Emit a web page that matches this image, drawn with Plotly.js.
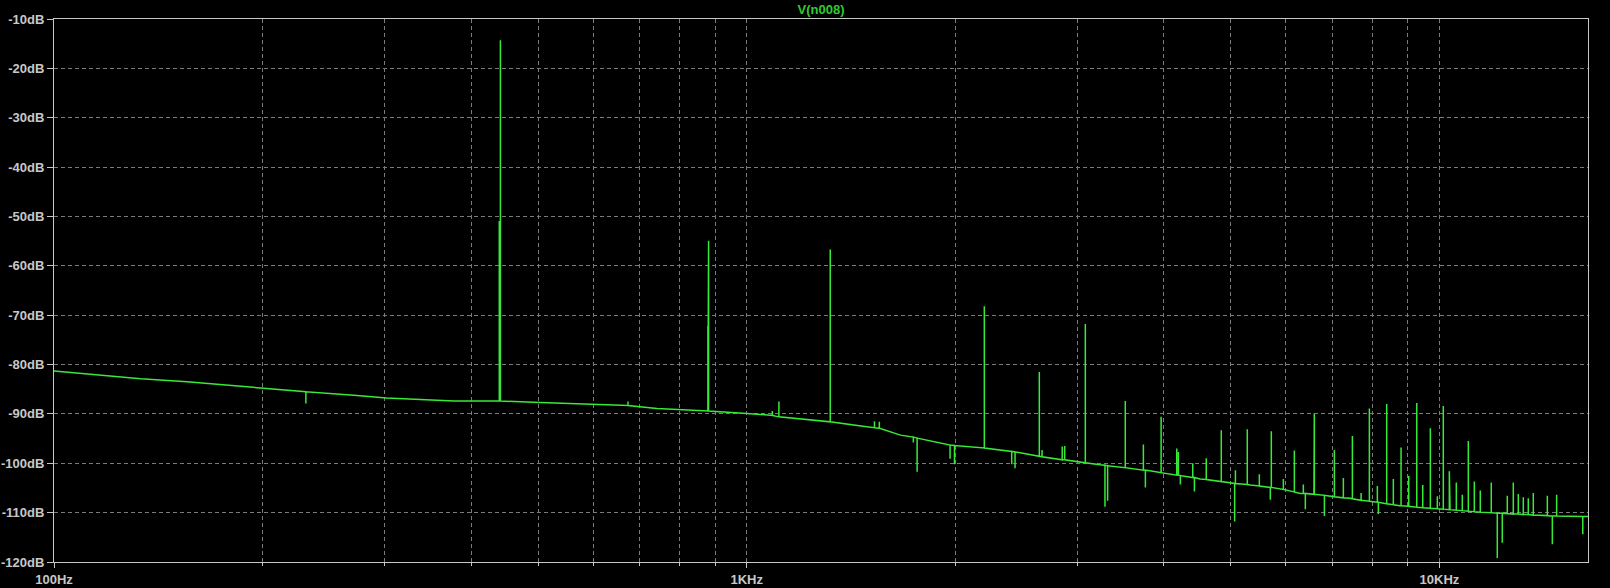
<!DOCTYPE html>
<html>
<head>
<meta charset="utf-8">
<script src="https://cdn.plot.ly/plotly-3.0.1.min.js"></script>
<style>
  html, body { margin: 0; padding: 0; background: #000; }
  #chart { width: 1610px; height: 588px; }
</style>
</head>
<body>
<div id="chart"></div>
<script>
// Noise floor of V(n008) spectrum (Hz, dB)
const floorFreq = [100, 111.6, 133.4, 155.6, 198.8, 231, 271, 302, 378, 441, 503, 600, 674, 742, 881, 1000, 1113, 1320, 1490, 1667, 1966, 2203, 2645, 3082, 3236, 3820, 4512, 5329, 6293, 7430, 8773, 10360, 12230, 14440, 16390];
const floorDb   = [-81.3, -81.9, -82.9, -83.5, -84.8, -85.5, -86.2, -86.8, -87.4, -87.4, -87.7, -88.1, -88.3, -88.9, -89.4, -89.9, -90.6, -91.6, -92.6, -94.3, -96.3, -96.9, -98.6, -99.9, -100.3, -101.5, -103.2, -104.4, -106.1, -107.1, -108.6, -109.4, -110.1, -110.7, -110.8];

// Spikes: frequency (Hz), level at their foot (dB), level at their tip (dB)
const spikeFreq = [231, 439.4, 441, 674, 879, 881, 1089, 1113, 1320, 1529, 1554, 1740, 1762, 1966, 1995, 2203, 2413, 2440, 2645, 2669, 2854, 2878, 3082, 3290, 3319, 3520, 3738, 3763, 3965, 4177, 4199, 4227, 4405, 4429, 4607, 4843, 5063, 5076, 5280, 5496, 5700, 5719, 5953, 6174, 6361, 6404, 6590, 6598, 6823, 7053, 7267, 7488, 7708, 7923, 8136, 8163, 8393, 8580, 8803, 9031, 9275, 9461, 9703, 9931, 10130, 10335, 10578, 10790, 11008, 11230, 11455, 11881, 12121, 12324, 12531, 12784, 12998, 13216, 13437, 13662, 14315, 14555, 14766, 16105];
const spikeBase = [-85.5, -87.4, -87.4, -88.3, -89.4, -89.4, -90.3, -90.6, -91.6, -92.8, -92.9, -94.7, -94.9, -96.3, -96.4, -96.9, -97.6, -97.7, -98.6, -98.7, -99.3, -99.3, -99.9, -100.4, -100.5, -100.9, -101.4, -101.4, -101.9, -102.4, -102.4, -102.5, -102.9, -102.9, -103.3, -103.7, -104.1, -104.1, -104.3, -104.6, -104.9, -104.9, -105.3, -105.8, -106.1, -106.1, -106.3, -106.3, -106.5, -106.8, -107.0, -107.2, -107.5, -107.7, -107.9, -107.9, -108.2, -108.4, -108.6, -108.7, -108.9, -109.0, -109.1, -109.2, -109.3, -109.4, -109.5, -109.6, -109.7, -109.8, -109.9, -110.0, -110.1, -110.1, -110.2, -110.3, -110.3, -110.4, -110.4, -110.5, -110.6, -110.7, -110.7, -110.8];
const spikeTip  = [-87.9, -50.9, -14.3, -87.5, -72.2, -54.9, -89.4, -87.5, -56.7, -91.5, -91.6, -95.8, -101.7, -99.1, -100.2, -68.2, -100.2, -101.0, -81.5, -97.3, -96.6, -96.5, -71.8, -108.8, -107.6, -87.4, -96.2, -104.9, -90.6, -97.0, -97.7, -104.3, -100.0, -105.7, -99.0, -93.3, -111.8, -101.4, -93.1, -102.2, -107.4, -93.5, -103.2, -97.4, -104.3, -109.3, -98.1, -89.9, -110.7, -97.3, -103.0, -94.5, -106.0, -88.9, -104.6, -110.3, -88.0, -103.2, -96.8, -102.6, -87.8, -104.4, -92.9, -106.7, -88.4, -101.6, -103.9, -106.4, -95.5, -103.7, -105.5, -103.9, -119.2, -116.1, -106.6, -103.9, -106.2, -106.9, -107.1, -106.0, -106.6, -116.4, -106.4, -114.4];

// Axis ticks
const yTickVals = [-10, -20, -30, -40, -50, -60, -70, -80, -90, -100, -110, -120];
const yTickText = ['-10dB', '-20dB', '-30dB', '-40dB', '-50dB', '-60dB', '-70dB', '-80dB', '-90dB', '-100dB', '-110dB', '-120dB'];
const xTickVals = [100, 1000, 10000];
const xTickText = ['100Hz', '1KHz', '10KHz'];
const xMinorVals = [200, 300, 400, 500, 600, 700, 800, 900, 2000, 3000, 4000, 5000, 6000, 7000, 8000, 9000];

// Build the polyline from the named arrays
const pts = [];
floorFreq.forEach((f, i) => pts.push({ f: f, ys: [floorDb[i]] }));
spikeFreq.forEach((f, i) => pts.push({ f: f, ys: [spikeBase[i], spikeTip[i], spikeBase[i]] }));
pts.sort((a, b) => a.f - b.f);
const xs = [], ys = [];
pts.forEach(p => p.ys.forEach(v => { xs.push(p.f); ys.push(v); }));

const gridColor = '#7a7a7a';
const axisColor = '#c8c8c8';
const labelFont = { family: 'Liberation Sans, Arial, sans-serif', size: 13, color: '#c8c8c8', weight: 'bold' };

const data = [{
  type: 'scatter',
  mode: 'lines',
  x: xs,
  y: ys,
  line: { color: '#38ea38', width: 1.5 },
  hoverinfo: 'skip',
  showlegend: false
}];

const layout = {
  width: 1610,
  height: 588,
  paper_bgcolor: '#000000',
  plot_bgcolor: '#000000',
  margin: { l: 54, r: 22, t: 19, b: 26, pad: 0 },
  title: {
    text: 'V(n008)',
    font: { family: 'Liberation Sans, Arial, sans-serif', size: 13, color: '#2ecc2e', weight: 'bold' },
    x: 0.5, xref: 'paper', xanchor: 'center',
    y: 1 - 9 / 588, yref: 'container', yanchor: 'middle'
  },
  xaxis: {
    type: 'log',
    range: [2, 4.2145],
    tickmode: 'array',
    tickvals: xTickVals,
    ticktext: xTickText,
    ticks: 'outside',
    ticklen: 5,
    tickcolor: axisColor,
    tickfont: labelFont,
    showline: true,
    linecolor: axisColor,
    linewidth: 1,
    mirror: true,
    showgrid: true,
    gridcolor: gridColor,
    griddash: '4px,3px',
    gridwidth: 1,
    zeroline: false,
    minor: {
      tickmode: 'array',
      tickvals: xMinorVals,
      ticks: 'outside',
      ticklen: 3,
      tickcolor: axisColor,
      showgrid: true,
      gridcolor: gridColor,
      griddash: '4px,3px',
      gridwidth: 1
    },
    fixedrange: true
  },
  yaxis: {
    range: [-120, -10],
    tickmode: 'array',
    tickvals: yTickVals,
    ticktext: yTickText,
    ticks: 'outside',
    ticklen: 6,
    tickcolor: axisColor,
    tickfont: labelFont,
    showline: true,
    linecolor: axisColor,
    linewidth: 1,
    mirror: true,
    showgrid: true,
    gridcolor: gridColor,
    griddash: '4px,3px',
    gridwidth: 1,
    zeroline: false,
    fixedrange: true
  }
};

Plotly.newPlot('chart', data, layout, { displayModeBar: false, staticPlot: true });
</script>
</body>
</html>
